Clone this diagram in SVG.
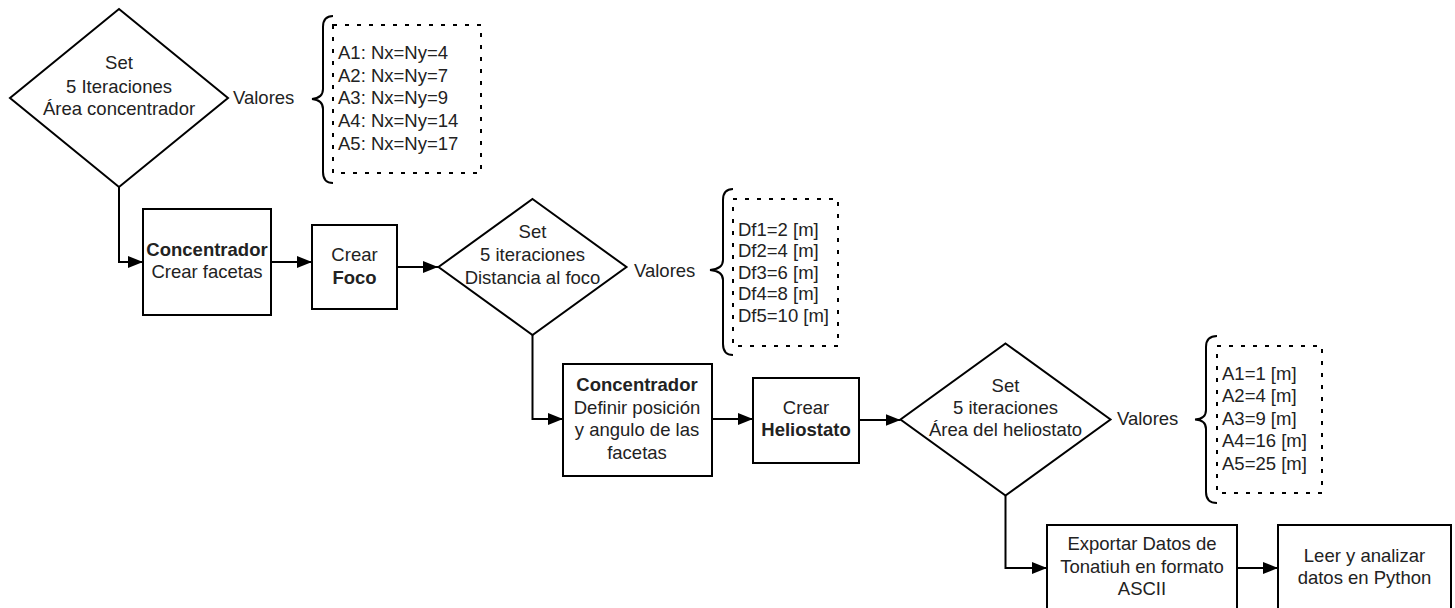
<svg xmlns="http://www.w3.org/2000/svg" width="1455" height="608" viewBox="0 0 1455 608">
<style>
.s{fill:#fff;stroke:#000;stroke-width:2}
.d{fill:none;stroke:#000;stroke-width:2;stroke-dasharray:4 8}
.b{fill:none;stroke:#000;stroke-width:2}
.c{fill:none;stroke:#000;stroke-width:2}
text{font-family:"Liberation Sans",Arial,sans-serif;font-size:18.5px;fill:#222}
.m{text-anchor:middle}
.bold{font-weight:bold}
</style>
<defs>
<marker id="ah" markerUnits="userSpaceOnUse" markerWidth="16" markerHeight="12" refX="15" refY="6" orient="auto">
<path d="M0,0 L15,6 L0,12 z" fill="#000"/>
</marker>
</defs>
<rect width="1455" height="608" fill="#fff"/>
<g id="connectors">
<path class="c" d="M119,187 V262 H143" marker-end="url(#ah)"/>
<path class="c" d="M271,262 H312" marker-end="url(#ah)"/>
<path class="c" d="M397,267 H438" marker-end="url(#ah)"/>
<path class="c" d="M532.5,335 V419 H563" marker-end="url(#ah)"/>
<path class="c" d="M712,419 H753" marker-end="url(#ah)"/>
<path class="c" d="M859,420 H900.5" marker-end="url(#ah)"/>
<path class="c" d="M1005.5,496 V568 H1047" marker-end="url(#ah)"/>
<path class="c" d="M1237,568 H1278" marker-end="url(#ah)"/>
</g>
<g id="diamond1">
<polygon class="s" points="119,9 228,98 119,187 10,98"/>
<text class="m" x="119" y="69">Set</text>
<text class="m" x="119" y="92.5">5 Iteraciones</text>
<text class="m" x="119" y="114.5">Área concentrador</text>
</g>
<g id="valores1">
<text x="233" y="104">Valores</text>
<path class="b" d="M333,16 Q323,16 323,27 V89 Q323,98 312,99 Q323,100 323,109 V172 Q323,183 333,183"/>
<rect class="d" x="333" y="25" width="148" height="148"/>
<text x="338" y="58.5">A1: Nx=Ny=4</text>
<text x="338" y="81.5">A2: Nx=Ny=7</text>
<text x="338" y="103.5">A3: Nx=Ny=9</text>
<text x="338" y="126.5">A4: Nx=Ny=14</text>
<text x="338" y="149.5">A5: Nx=Ny=17</text>
</g>
<g id="box1">
<rect class="s" x="143" y="209" width="128" height="106"/>
<text class="m bold" x="207" y="255.5">Concentrador</text>
<text class="m" x="207" y="277.5">Crear facetas</text>
</g>
<g id="box2">
<rect class="s" x="312" y="225" width="85" height="84"/>
<text class="m" x="354.5" y="260.5">Crear</text>
<text class="m bold" x="354.5" y="283.5">Foco</text>
</g>
<g id="diamond2">
<polygon class="s" points="532.5,199 626.5,267 532.5,335 438.5,267"/>
<text class="m" x="532.5" y="237.5">Set</text>
<text class="m" x="532.5" y="260.5">5 iteraciones</text>
<text class="m" x="532.5" y="283.5">Distancia al foco</text>
</g>
<g id="valores2">
<text x="634" y="276.5">Valores</text>
<path class="b" d="M733,189 Q723,189 723,200 V260 Q723,269 710,270 Q723,271 723,280 V344 Q723,355 733,355"/>
<rect class="d" x="733" y="199" width="105" height="147"/>
<text x="738" y="235.5">Df1=2 [m]</text>
<text x="738" y="257">Df2=4 [m]</text>
<text x="738" y="278.5">Df3=6 [m]</text>
<text x="738" y="300">Df4=8 [m]</text>
<text x="738" y="321.5">Df5=10 [m]</text>
</g>
<g id="box3">
<rect class="s" x="563" y="364" width="149" height="112"/>
<text class="m bold" x="637" y="390.5">Concentrador</text>
<text class="m" x="637" y="413.5">Definir posición</text>
<text class="m" x="637" y="435.5">y angulo de las</text>
<text class="m" x="637" y="458.5">facetas</text>
</g>
<g id="box4">
<rect class="s" x="753" y="378" width="106" height="85"/>
<text class="m" x="806" y="413.5">Crear</text>
<text class="m bold" x="806" y="435.5">Heliostato</text>
</g>
<g id="diamond3">
<polygon class="s" points="1005.5,343.5 1110.5,419.5 1005.5,495.5 900.5,419.5"/>
<text class="m" x="1005.5" y="391.5">Set</text>
<text class="m" x="1005.5" y="413.5">5 iteraciones</text>
<text class="m" x="1005.5" y="435.5">Área del heliostato</text>
</g>
<g id="valores3">
<text x="1117" y="424.5">Valores</text>
<path class="b" d="M1217,336 Q1206,336 1206,347 V410 Q1206,419 1195,419.5 Q1206,420 1206,429 V492 Q1206,503 1217,503"/>
<rect class="d" x="1217" y="346" width="105" height="147"/>
<text x="1222" y="379.5">A1=1 [m]</text>
<text x="1222" y="401.5">A2=4 [m]</text>
<text x="1222" y="424.5">A3=9 [m]</text>
<text x="1222" y="446.5">A4=16 [m]</text>
<text x="1222" y="469.5">A5=25 [m]</text>
</g>
<g id="box5">
<rect class="s" x="1047" y="525" width="190" height="100"/>
<text class="m" x="1142" y="549.5">Exportar Datos de</text>
<text class="m" x="1142" y="572.5">Tonatiuh en formato</text>
<text class="m" x="1142" y="594.5">ASCII</text>
</g>
<g id="box6">
<rect class="s" x="1278" y="525" width="173" height="100"/>
<text class="m" x="1364.5" y="561.5">Leer y analizar</text>
<text class="m" x="1364.5" y="583.5">datos en Python</text>
</g>
</svg>
